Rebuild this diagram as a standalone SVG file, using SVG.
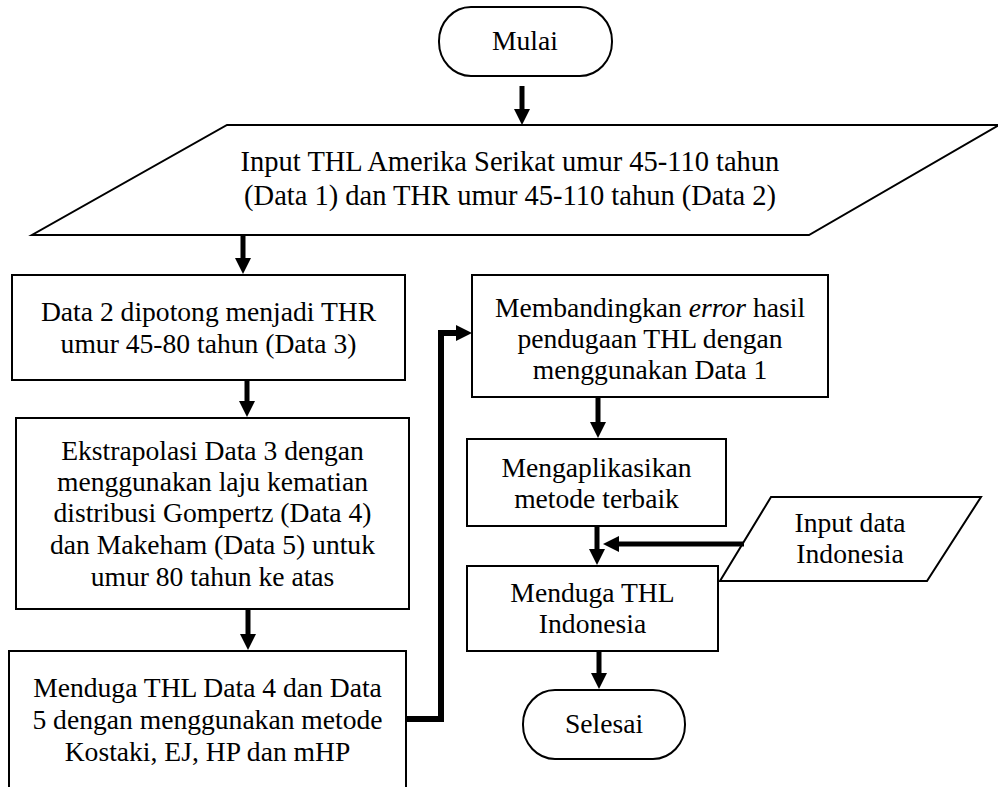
<svg xmlns="http://www.w3.org/2000/svg" width="998" height="787" viewBox="0 0 998 787">
<defs>
<marker id="ah" viewBox="0 0 16 16" refX="10" refY="8" markerWidth="16" markerHeight="16" markerUnits="userSpaceOnUse" orient="auto">
<path d="M0,0 L16,8 L0,16 z" fill="#000"/>
</marker>
<style>
.shape{fill:#fff;stroke:#000;stroke-width:2}
.t{font-family:"Liberation Serif","Times New Roman",serif;font-size:27.6px;fill:#000;text-anchor:middle}
.big{font-size:28.5px}
.c{fill:none;stroke:#000;stroke-width:5;marker-end:url(#ah)}
</style>
</defs>
<rect width="998" height="787" fill="#fff"/>
<g id="mulai">
<rect class="shape" x="439" y="7" width="173" height="69" rx="32" ry="34"/>
<text class="t" x="525" y="50">Mulai</text>
</g>
<g id="input-thl">
<polygon class="shape" points="227,125 999,125 809,235 32,235"/>
<text class="t big" x="510" y="171">Input  THL Amerika Serikat umur 45-110 tahun</text>
<text class="t big" x="510" y="205">(Data 1) dan THR umur 45-110 tahun (Data 2)</text>
</g>
<g id="data3">
<rect class="shape" x="12" y="275" width="393" height="105"/>
<text class="t" x="208.5" y="321">Data 2 dipotong menjadi THR</text>
<text class="t" x="208.5" y="353">umur 45-80 tahun (Data 3)</text>
</g>
<g id="ekstrapolasi">
<rect class="shape" x="16" y="418" width="393" height="191"/>
<text class="t" x="212.5" y="460">Ekstrapolasi Data 3 dengan</text>
<text class="t" x="212.5" y="491">menggunakan laju kematian</text>
<text class="t" x="212.5" y="522">distribusi Gompertz (Data 4)</text>
<text class="t" x="212.5" y="554">dan Makeham (Data 5) untuk</text>
<text class="t" x="212.5" y="586">umur 80 tahun ke atas</text>
</g>
<g id="menduga-data45">
<rect class="shape" x="9" y="651" width="397" height="160"/>
<text class="t" x="207.5" y="697">Menduga THL Data 4 dan Data</text>
<text class="t" x="207.5" y="729">5 dengan menggunakan metode</text>
<text class="t" x="207.5" y="761">Kostaki, EJ, HP dan mHP</text>
</g>
<g id="membandingkan">
<rect class="shape" x="472" y="275" width="356" height="122"/>
<text class="t" x="650" y="317">Membandingkan <tspan font-style="italic">error</tspan> hasil</text>
<text class="t" x="650" y="348">pendugaan THL dengan</text>
<text class="t" x="650" y="379">menggunakan Data 1</text>
</g>
<g id="mengaplikasikan">
<rect class="shape" x="467" y="439" width="259" height="87"/>
<text class="t" x="596.5" y="477">Mengaplikasikan</text>
<text class="t" x="596.5" y="508">metode terbaik</text>
</g>
<g id="input-indonesia">
<polygon class="shape" points="771,497 981,497 927,581 720,581"/>
<text class="t" x="850" y="532">Input data</text>
<text class="t" x="850" y="563">Indonesia</text>
</g>
<g id="menduga-indonesia">
<rect class="shape" x="467" y="566" width="251" height="85"/>
<text class="t" x="592.5" y="602">Menduga THL</text>
<text class="t" x="592.5" y="633">Indonesia</text>
</g>
<g id="selesai">
<rect class="shape" x="523" y="690" width="162" height="69" rx="32" ry="34"/>
<text class="t" x="604" y="733">Selesai</text>
</g>
<g id="connectors">
<line class="c" x1="522" y1="86" x2="522" y2="119"/>
<line class="c" x1="243" y1="236" x2="243" y2="268"/>
<line class="c" x1="247" y1="381" x2="247" y2="411"/>
<line class="c" x1="248" y1="610" x2="248" y2="644"/>
<path class="c" style="stroke-width:6" d="M407,719 H441 V333 H466"/>
<line class="c" x1="598" y1="398" x2="598" y2="432"/>
<line class="c" x1="597" y1="527" x2="597" y2="559"/>
<line class="c" x1="744" y1="544" x2="609" y2="544"/>
<line class="c" x1="599" y1="652" x2="599" y2="683"/>
</g>
</svg>
